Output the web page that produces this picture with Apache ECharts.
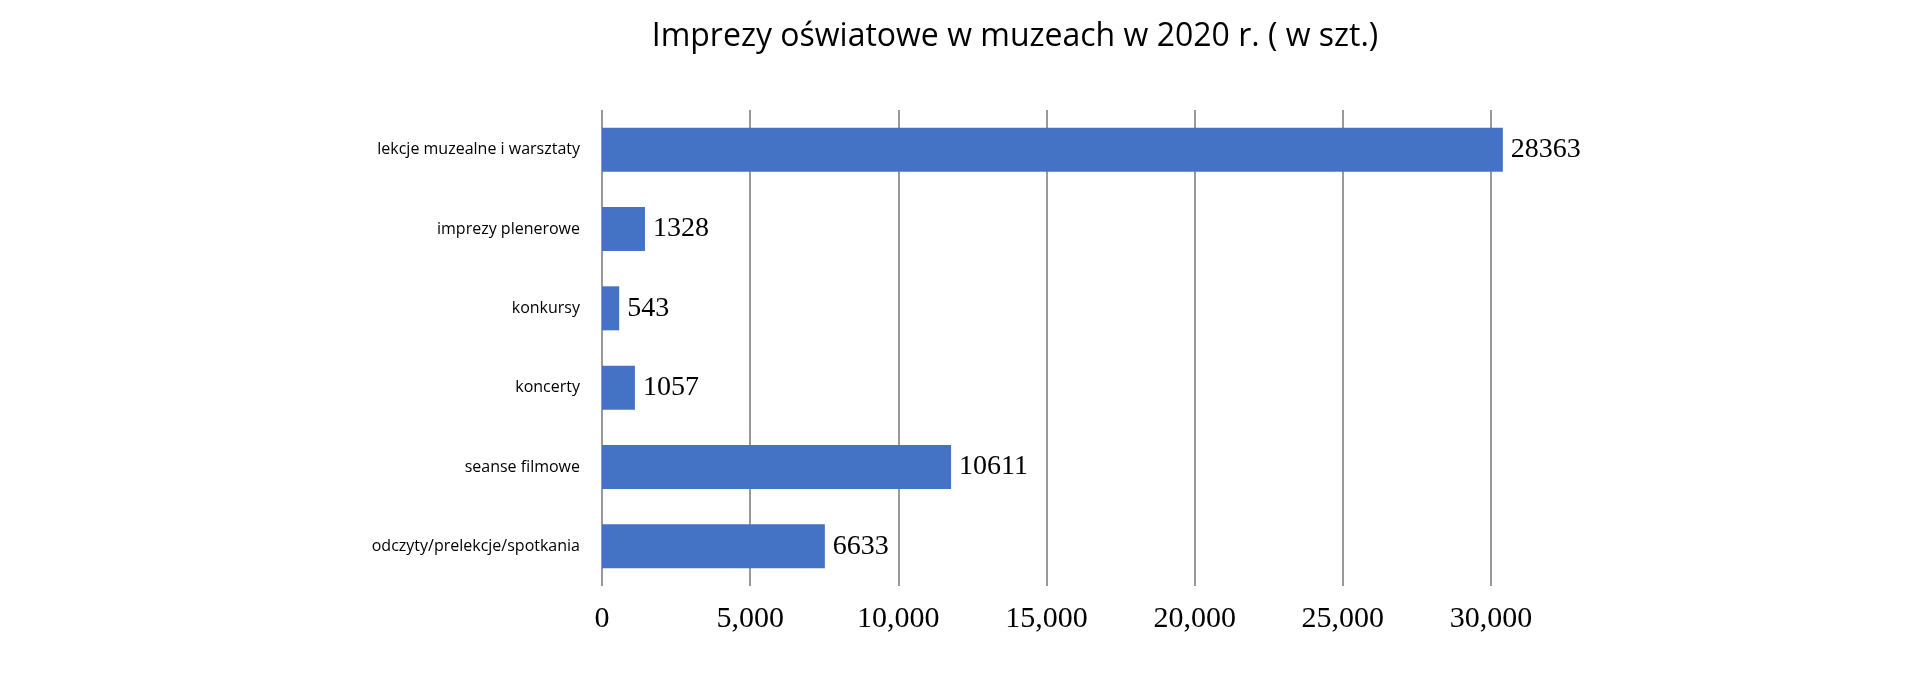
<!DOCTYPE html>
<html>
<head>
<meta charset="utf-8">
<script src="https://cdn.jsdelivr.net/npm/echarts@6/dist/echarts.min.js"></script>
<style>html,body{margin:0;background:#fff}#main{width:1920px;height:689px}</style>
</head>
<body>
<div id="main"></div>
<script>
var categories = ['lekcje muzealne i warsztaty', 'imprezy plenerowe', 'konkursy', 'koncerty', 'seanse filmowe', 'odczyty/prelekcje/spotkania'];
// bar lengths as drawn in the picture
var barValues = [30400, 1450, 580, 1110, 11780, 7520];
// numbers printed next to the bars
var labelValues = [28363, 1328, 543, 1057, 10611, 6633];

var chart = echarts.init(document.getElementById('main'));
chart.setOption({
    animation: false,
    title: {
        text: 'Imprezy oświatowe w muzeach w 2020 r. ( w szt.)',
        left: 1010, top: 16, textAlign: 'center',
        textStyle: {fontFamily: 'Open Sans', fontWeight: 'normal', fontSize: 32, color: '#000'}
    },
    grid: {left: 602, right: 429, top: 110, bottom: 103, containLabel: false},
    xAxis: {
        type: 'value', min: 0, max: 30000, interval: 5000,
        axisLine: {show: false}, axisTick: {show: false},
        splitLine: {lineStyle: {color: '#999', width: 2}},
        axisLabel: {fontFamily: 'Liberation Serif', fontSize: 30, color: '#000', margin: 18}
    },
    yAxis: {
        type: 'category', data: categories, inverse: true,
        axisLine: {show: false}, axisTick: {show: false},
        axisLabel: {fontFamily: 'Open Sans', fontSize: 16, color: '#000', margin: 22}
    },
    series: [{
        type: 'bar', clip: false, barWidth: 44,
        data: barValues,
        itemStyle: {color: '#4472c4'},
        label: {
            show: true, position: 'right', distance: 8,
            fontFamily: 'Liberation Serif', fontSize: 28, color: '#000',
            formatter: function (p) { return labelValues[p.dataIndex]; }
        }
    }]
});
</script>
</body>
</html>
